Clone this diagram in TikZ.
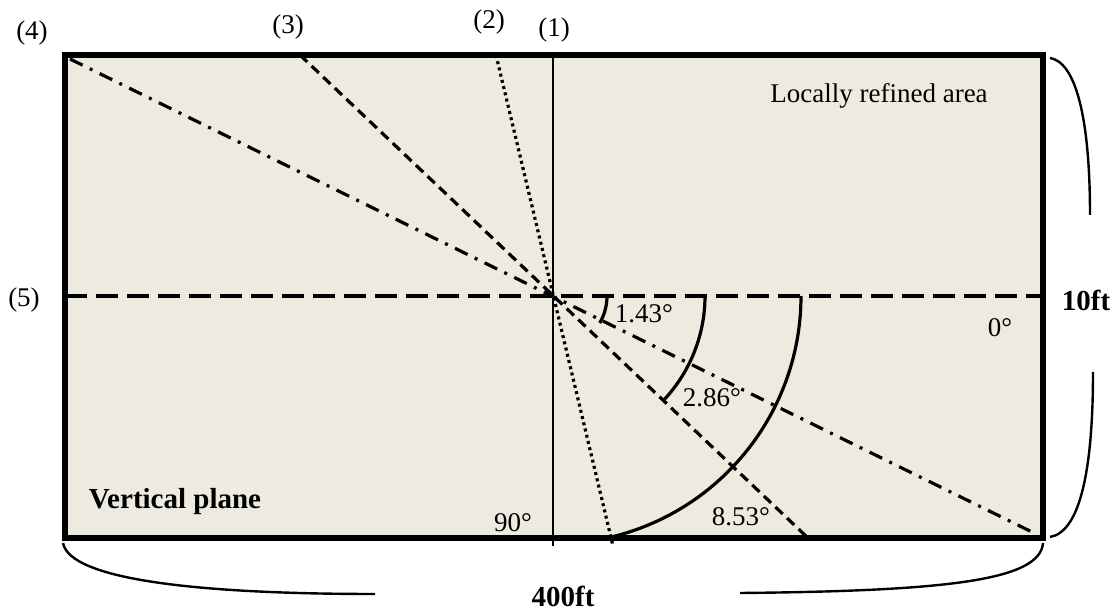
\documentclass[tikz,border=0pt]{standalone}
\usepackage{fontspec}
\setmainfont{Liberation Serif}
\definecolor{bgfill}{RGB}{237,234,224}
\begin{document}
\begin{tikzpicture}[x=0.5pt,y=-0.5pt,
  lbl/.style={font=\fontsize{13.5}{16}\selectfont, inner sep=0pt},
  blbl/.style={font=\fontsize{14.5}{16}\selectfont\bfseries, inner sep=0pt},
  ray/.style={line width=1.6pt},
  rayone/.style={line width=1.3pt},
  raytwo/.style={ray, dash pattern=on 1.5pt off 1.7pt},
  raythree/.style={ray, dash pattern=on 5pt off 3pt},
  rayfour/.style={ray, dash pattern=on 7pt off 4pt on 1.5pt off 4pt},
  rayfive/.style={ray, dash pattern=on 11pt off 4.5pt},
  anglearc/.style={line width=1.6pt},
  brace/.style={line width=1.2pt},
  frame/.style={line width=3pt}]
\useasboundingbox (0,0) rectangle (1115,614);
% frame corners
\coordinate (TL) at (65,55);
\coordinate (BR) at (1043,538);
\coordinate (C) at (553,296);
\fill[bgfill] (TL) rectangle (BR);
% rays
\coordinate (r1a) at (553,55);  \coordinate (r1b) at (553,546);
\coordinate (r2a) at (496,55);  \coordinate (r2b) at (613,546);
\coordinate (r3a) at (300,55);  \coordinate (r3b) at (808,538);
\coordinate (r4a) at (70,59);   \coordinate (r4b) at (1032,532);
\coordinate (r5a) at (65,296);  \coordinate (r5b) at (1043,296);
\draw[rayone]   (r1a) -- (r1b);
\draw[raytwo]   (r2a) -- (r2b);
\draw[raythree] (r3a) -- (r3b);
\draw[rayfour]  (r4a) -- (r4b);
\draw[rayfive]  (r5a) -- (r5b);
% angle arcs
\draw[anglearc] (C) ++(54,0) arc[start angle=0, end angle=30, radius=54];
\draw[anglearc] (C) ++(152,0) arc[start angle=0, end angle=43, radius=152];
\draw[anglearc] (C) ++(248,0) arc[start angle=0, end angle=76, radius=248];
% frame
\draw[frame] (TL) rectangle (BR);
% braces
\coordinate (b1a) at (1050,58);  \coordinate (b1b) at (1090,215);
\coordinate (b2a) at (1093,372); \coordinate (b2b) at (1050,537);
\coordinate (b3a) at (63,543);   \coordinate (b3b) at (375,594);
\coordinate (b4a) at (740,593);  \coordinate (b4b) at (1043,543);
\draw[brace] (b1a) .. controls (1075,62) and (1090,115) .. (b1b);
\draw[brace] (b2a) .. controls (1093,470) and (1080,532) .. (b2b);
\draw[brace] (b3a) .. controls (70,580) and (200,594) .. (b3b);
\draw[brace] (b4a) .. controls (950,591) and (1040,580) .. (b4b);
% labels
\node[lbl] (l1) at (554,30) {(1)};
\node[lbl] (l2) at (489,22) {(2)};
\node[lbl] (l3) at (288,27) {(3)};
\node[lbl] (l4) at (32,33) {(4)};
\node[lbl] (l5) at (24,300) {(5)};
\node[lbl] (area) at (879,96) {Locally refined area};
\node[lbl] (a1) at (644,314) {1.43°};
\node[lbl] (a2) at (712,398) {2.86°};
\node[lbl] (a3) at (741,517) {8.53°};
\node[lbl] (a90) at (513,523) {90°};
\node[lbl] (a0) at (1000,328) {0°};
\node[blbl] (vp) at (175,502) {Vertical plane};
\node[blbl] (ten) at (1086,300) {10ft};
\node[blbl] (four) at (563,596) {400ft};
\end{tikzpicture}
\end{document}
